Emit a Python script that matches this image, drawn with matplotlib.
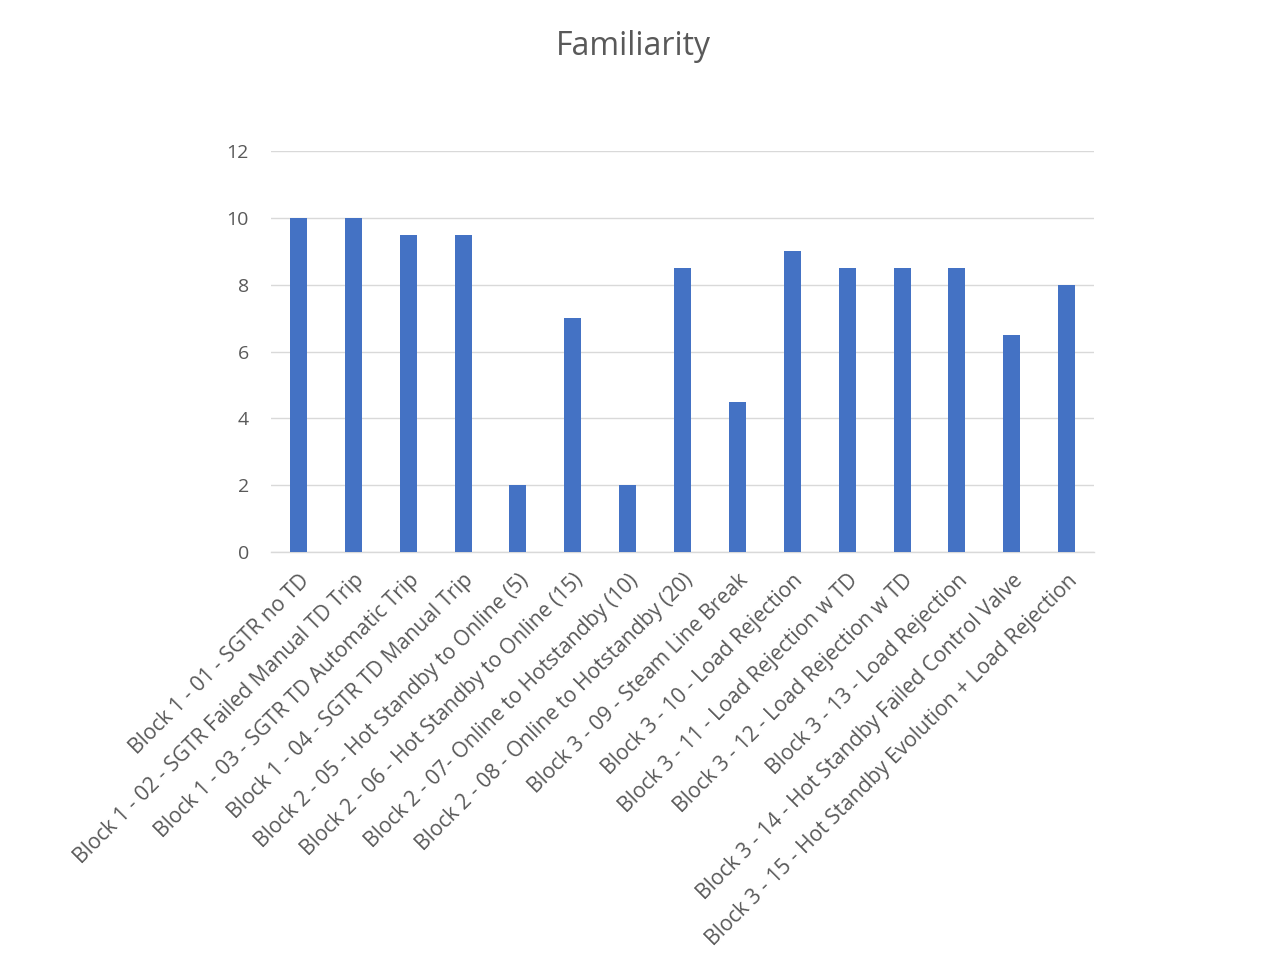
import matplotlib.pyplot as plt
import numpy as np

plt.rcParams['font.family'] = ['Open Sans', 'DejaVu Sans']

# Data
scenarios = [
    'Block 1 - 01 - SGTR no TD',
    'Block 1 - 02 - SGTR Failed Manual TD Trip',
    'Block 1 - 03 - SGTR TD Automatic Trip',
    'Block 1 - 04 - SGTR TD Manual Trip',
    'Block 2 - 05 - Hot Standby to Online (5)',
    'Block 2 - 06 - Hot Standby to Online (15)',
    'Block 2 - 07- Online to Hotstandby (10)',
    'Block 2 - 08 - Online to Hotstandby (20)',
    'Block 3 - 09 - Steam Line Break',
    'Block 3 - 10 - Load Rejection',
    'Block 3 - 11 - Load Rejection w TD',
    'Block 3 - 12 - Load Rejection w TD',
    'Block 3 - 13 - Load Rejection',
    'Block 3 - 14 - Hot Standby Failed Control Valve',
    'Block 3 - 15 - Hot Standby Evolution + Load Rejection',
]
familiarity = [10, 10, 9.5, 9.5, 2, 7, 2, 8.5, 4.5, 9, 8.5, 8.5, 8.5, 6.5, 8]
y_ticks = [0, 2, 4, 6, 8, 10, 12]

text_color = '#595959'
grid_color = '#d9d9d9'

fig = plt.figure(figsize=(12.67, 9.59), dpi=100)
ax = fig.add_axes([0.2139, 0.4244, 0.6496, 0.4181])

x = np.arange(len(scenarios))
ax.bar(x, familiarity, width=0.31, color='#4472C4', zorder=3)

ax.set_xlim(-0.5, len(scenarios) - 0.5)
ax.set_ylim(0, 12)
ax.set_yticks(y_ticks)
ax.yaxis.grid(True, color=grid_color, linewidth=1, zorder=0)

for side in ['top', 'right', 'left']:
    ax.spines[side].set_visible(False)
ax.spines['bottom'].set_color(grid_color)
ax.spines['bottom'].set_linewidth(1)

ax.set_xticks(x)
ax.set_xticklabels(scenarios, rotation=45, ha='right', rotation_mode='anchor')
ax.tick_params(axis='both', length=0, labelcolor=text_color)
ax.tick_params(axis='x', labelsize=15.2, pad=13)
ax.tick_params(axis='y', labelsize=14, pad=16)

fig.text(0.5, 0.951, 'Familiarity', ha='center', va='center',
         fontsize=23, color=text_color)

fig.savefig('out.png', dpi=100)
